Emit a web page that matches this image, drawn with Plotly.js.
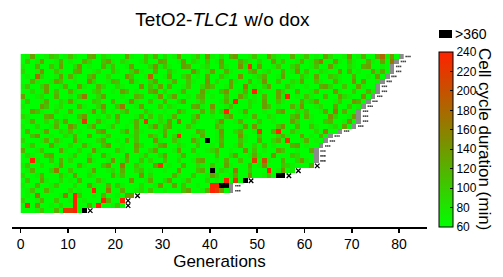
<!DOCTYPE html>
<html><head><meta charset="utf-8">
<script src="https://cdn.plot.ly/plotly-3.0.1.min.js"></script>
<style>html,body{margin:0;padding:0;background:#fff}#chart{width:503px;height:277px}</style>
</head><body><div id="chart"></div>
<script>
// Cell-cycle duration codes per lineage (row) and generation (column).
// Digits/letters = duration bins (min), X = >360 min (black), G = still dividing at end of movie (grey).
const codeValues = {'0':60,'1':72,'2':90,'3':108,'4':124,'5':134,'6':145,'7':165,'8':182,'9':200,'r':220,'R':240};
const lineages = [
  "0150013201 3100450210 0051003140 2015001306 1020460013 0052100401 3010520016 0140058160 G",
  "0301500140 1004200351 0210013005 4001502103 0150004210 2005130014 0147005103 100410507G",
  "1004003150 0260100413 0015000261 3100540012 00410061r0 5001300240 0130051002 10450010G",
  "2001600310 0450012003 1002510040 0310006201 5004100035 0120040160 3002100504 01005140G",
  "0108200150 4100350020 0063001800 1500240105 0031006001 2400150003 1050032100 4001050G",
  "0041001530 0100620014 3005100250 0140031006 0200510040 1600300215 0031004100 605001G",
  "1300250014 0051004200 2100060315 0400130025 3001500701 0250003100 1004520030 05100G",
  "0020150300 4100023001 0530100460 2001400051 003600140R 1000520040 0140006100 30041G",
  "5001200400 1037002500 0100430016 0250010340 1003005201 040051R010 3100400521 0060G",
  "0300140021 5100032004 0016100300 4002500130 00140R0021 0500310004 1250001300 640G",
  "1000530120 0041002600 3700150003 0210004510 6001300020 0530100416 0012005003 01G",
  "0053100200 4000160301 0240003100 1005200040 302R001500 0100460021 3001507040 0G",
  "2100045001 0036001020 5000140302 0140002600 1003500104 0021000350 4100062001 5G",
  "0140020315 001r004100 300140r002 1507003100 0260014000 3001000520 0100340016 0G",
  "1002001400 6300250013 0010400261 3500031000 0420001506 1000360040 0310012050 G",
  "0400150021 3010004600 0250310001 4001000530 0160024001 r004R00310 0020700G",
  "0036001002 1400500130 0001300420 502R001040 0150006100 3000241005 01040G",
  "2000140310 0510002400 1040300061 003100520X 0140003100 500240r001 4010G",
  "0130005100 2004100360 0100520014 6002100300 1050014002 0301000450 100G",
  "4001300051 0020061000 3100400250 0015003001 2400100603 0100530010 04G",
  "0210045000 1300200410 0060013002 5001400100 0300250014 1006000320 00G",
  "00R1003040 2000510016 0140030200 3002001450 010400300r 0910040025 10G",
  "1300200150 0041000360 070031005r 0100400210 3005100040 1600032100 04",
  "0140002700 3000150012 0400230100 1005000340 X021070030 00R01601",
  "2001400031 0500210004 1300060200 0041003001 5200140060 0130XX",
  "0300510020 1040003100 0006001400 2500130002 010R0r0X",
  "1004001300 0200510040 3100020016 0050300100 RRXXG",
  "0130041000 20100R0070 0400120300 1000350014 Rr60G",
  "0107000017 0R30010400 1056",
  "2001400300 1R01000R40 0R",
  "0r06001020 0R0040R001 30",
  "000130040r rR0X"
];
const xTicks = [0,10,20,30,40,50,60,70,80];
const cbTicks = [60,80,100,120,140,160,180,200,220,240];
const titleText = 'TetO2-<i>TLC1</i> w/o dox';
const xTitle = 'Generations';
const cbTitle = 'Cell cycle duration (min)';
const overLabel = '>360';

const rows = lineages.map(s => s.replace(/ /g,''));
const maxLen = Math.max(...rows.map(r => r.length));
const xCenters = [];
for (let g = 0; g < maxLen; g++) xCenters.push(g + 0.5);
const yIdx = rows.map((r, i) => i);

const zMain = [], zBlack = [], zGrey = [];
rows.forEach(r => {
  const a = [], b = [], c = [];
  for (let g = 0; g < maxLen; g++) {
    const ch = g < r.length ? r[g] : null;
    a.push(ch && codeValues[ch] !== undefined ? codeValues[ch] : null);
    b.push(ch === 'X' ? 1 : null);
    c.push(ch === 'G' ? 1 : null);
  }
  zMain.push(a); zBlack.push(b); zGrey.push(c);
});

// end-of-lineage marks: x = died, three dots = still dividing
const deadX = [], deadY = [], dotX = [], dotY = [];
rows.forEach((r, i) => {
  if (r[r.length - 1] === 'G') {
    [0.5, 0.9, 1.3].forEach(o => { dotX.push(r.length + o); dotY.push(i); });
  } else { deadX.push(r.length + 0.7); deadY.push(i); }
});

const font = 'Liberation Sans, Arial, Helvetica, sans-serif';
// plot area: x 12..427, y 54..227
const L = 12, R = 427, T = 54, B = 227, W = 503, H = 277;
const px = x => (x - L) / (R - L);
const py = y => (B - y) / (B - T);

const traces = [
  {type:'heatmap', x:xCenters, y:yIdx, z:zMain, zmin:60, zmax:240,
   colorscale:[[0,'rgb(0,255,0)'],[0.5,'rgb(128,140,0)'],[1,'rgb(255,34,0)']],
   hoverinfo:'skip',
   colorbar:{x:px(439), xanchor:'left', xpad:0, ypad:0, thickness:14,
     lenmode:'pixels', len:175, y:py(139.5), yanchor:'middle',
     tickvals:cbTicks, ticktext:cbTicks.map(String), ticks:'inside', ticklen:3, tickcolor:'#000',
     tickfont:{family:font, size:12, color:'#000'}, outlinewidth:1, outlinecolor:'#000'}},
  {type:'heatmap', x:xCenters, y:yIdx, z:zBlack, zmin:0, zmax:1,
   colorscale:[[0,'#000'],[1,'#000']], showscale:false, hoverinfo:'skip'},
  {type:'heatmap', x:xCenters, y:yIdx, z:zGrey, zmin:0, zmax:1,
   colorscale:[[0,'#8c8c8c'],[1,'#8c8c8c']], showscale:false, hoverinfo:'skip'},
  {type:'scatter', mode:'markers', x:deadX, y:deadY, cliponaxis:false, hoverinfo:'skip',
   marker:{symbol:'x-thin', size:4.5, line:{width:1.3, color:'#000'}, color:'#000'}, showlegend:false},
  {type:'scatter', mode:'markers', x:dotX, y:dotY, cliponaxis:false, hoverinfo:'skip',
   marker:{symbol:'square', size:1.6, color:'#444', line:{width:0}}, showlegend:false}
];

const layout = {
  width:W, height:H, margin:{l:L, r:W-R, t:T, b:H-B, pad:0},
  paper_bgcolor:'#fff', plot_bgcolor:'#fff', showlegend:false,
  font:{family:font, color:'#000'},
  title:{text:titleText, font:{family:font, size:19, color:'#000'}, xref:'paper', x:px(222.5), xanchor:'center',
         yref:'container', y:1-19/H, yanchor:'middle'},
  xaxis:{range:[-1.84, 85.9], tickvals:xTicks, ticktext:xTicks.map(String), ticks:'outside', ticklen:4, tickwidth:1.5,
         tickcolor:'#000', showline:true, linecolor:'#000', linewidth:1.5, showgrid:false, zeroline:false,
         tickfont:{family:font, size:14, color:'#000'},
         title:{text:xTitle, font:{family:font, size:17, color:'#000'}, standoff:2}},
  yaxis:{range:[34.3, -0.5], visible:false, showgrid:false, zeroline:false},
  shapes:[{type:'rect', xref:'paper', yref:'paper', x0:px(439), x1:px(452), y0:py(38), y1:py(30),
           fillcolor:'#000', line:{width:0}}],
  annotations:[
    {xref:'paper', yref:'paper', x:px(453), y:py(34), xanchor:'left', yanchor:'middle', showarrow:false,
     text:overLabel, font:{family:font, size:14, color:'#000'}},
    {xref:'paper', yref:'paper', x:px(485), y:py(139), xanchor:'center', yanchor:'middle', showarrow:false,
     textangle:90, text:cbTitle, font:{family:font, size:17, color:'#000'}}
  ]
};
Plotly.newPlot('chart', traces, layout, {staticPlot:true, displayModeBar:false});
</script></body></html>
